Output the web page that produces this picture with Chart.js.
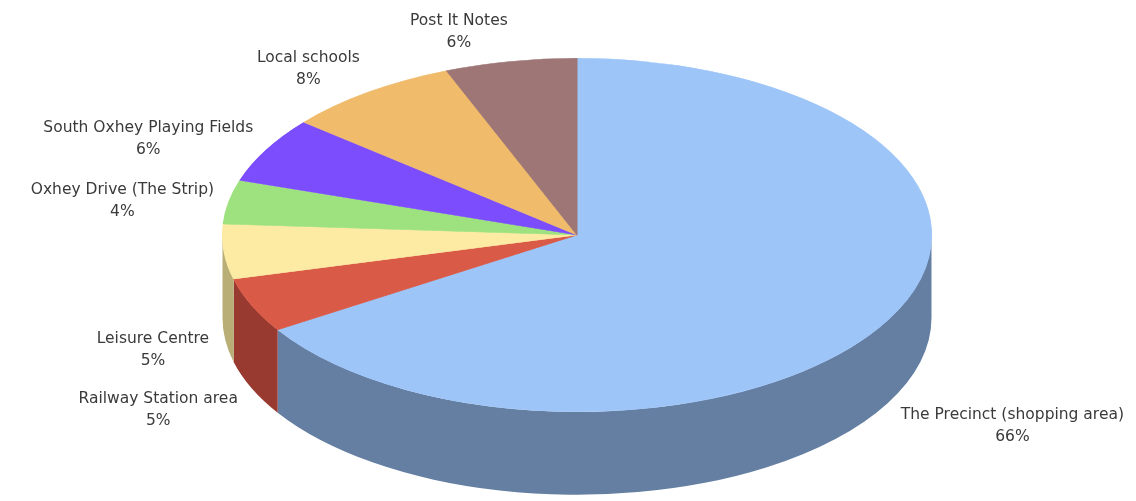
<!DOCTYPE html>
<html>
<head>
<meta charset="utf-8">
<script src="https://cdn.jsdelivr.net/npm/chart.js@4.4.1/dist/chart.umd.min.js"></script>
<style>
  html, body { margin: 0; padding: 0; background: #ffffff; }
  #wrap { width: 1136px; height: 501px; position: relative; }
</style>
</head>
<body>
<div id="wrap"><canvas id="mycanvas"></canvas></div>
<script>
//-------------------------
// data
//-------------------------
var places = [
  'The Precinct (shopping area)',
  'Railway Station area',
  'Leisure Centre',
  'Oxhey Drive (The Strip)',
  'South Oxhey Playing Fields',
  'Local schools',
  'Post It Notes'
];
var shares = [66, 5, 5, 4, 6, 8, 6]; // percent

// top face colours and the darker side colours
var topColors  = ['#9ec5f8', '#d95a47', '#fdeaa3', '#9ee27f', '#7b4dfc', '#f0bb6a', '#9e7676'];
var sideColors = ['#657fa3', '#983a2f', '#b8ae76', '#6e9e59', '#5636b0', '#a8834a', '#6f5353'];

var STRETCH = 355 / 177; // ellipse width / height
var DEPTH = 83;          // thickness of the pie, px

//-------------------------
// fake 3D: stretch the pie sideways and draw its visible rim
//-------------------------
var pie3d = {
  id: 'pie3d',
  beforeDatasetsDraw: function(chart) {
    var ctx = chart.ctx;
    var arcs = chart.getDatasetMeta(0).data;
    var cx = arcs[0].x, cy = arcs[0].y, r = arcs[0].outerRadius;
    ctx.save();
    ctx.translate(cx, 0);
    ctx.scale(STRETCH, 1);
    ctx.translate(-cx, 0);
    arcs.forEach(function(arc, i) {
      [0, 2 * Math.PI].forEach(function(k) {
        var a0 = Math.max(arc.startAngle, k);
        var a1 = Math.min(arc.endAngle, k + Math.PI);
        if (a1 <= a0) return;
        ctx.beginPath();
        ctx.arc(cx, cy, r, a0, a1);
        ctx.arc(cx, cy + DEPTH, r, a1, a0, true);
        ctx.closePath();
        ctx.fillStyle = sideColors[i];
        ctx.fill();
      });
    });
  },
  afterDatasetsDraw: function(chart) {
    chart.ctx.restore();
  },
  afterDraw: function(chart) {
    var ctx = chart.ctx;
    var arcs = chart.getDatasetMeta(0).data;
    var total = shares.reduce(function(a, b) { return a + b; }, 0);
    ctx.save();
    ctx.font = '15.5px "DejaVu Sans", Verdana, sans-serif';
    ctx.fillStyle = '#3a3a3a';
    ctx.textBaseline = 'middle';
    arcs.forEach(function(arc, i) {
      var mid = (arc.startAngle + arc.endAngle) / 2;
      var ux = Math.cos(mid), uy = Math.sin(mid);
      var gap = 15;
      var x = arc.x + (arc.outerRadius * STRETCH + gap) * ux;
      var y = arc.y + (arc.outerRadius + gap) * uy;
      if (uy > 0) {
        y += DEPTH + 14 + 4 * uy; // below the rim
      } else {
        y += 6 + 21 * uy;         // sit above the edge
      }
      ctx.textAlign = ux < 0 ? 'right' : 'left';
      var pct = Math.round(shares[i] / total * 100) + '%';
      var w = ctx.measureText(places[i]).width;
      var pw = ctx.measureText(pct).width;
      // percent line is centred under the name
      var px = ux < 0 ? x - (w - pw) / 2 : x + (w - pw) / 2;
      ctx.fillText(places[i], x, y - 11);
      ctx.fillText(pct, px, y + 11);
    });
    ctx.restore();
  }
};

var chartdata = {
  labels: places,
  datasets: [{
    data: shares,
    backgroundColor: topColors,
    borderColor: topColors,
    borderWidth: 0.5,
    clip: false
  }]
};

var ctx = document.getElementById('mycanvas');
var pieChart = new Chart(ctx, {
  type: 'pie',
  data: chartdata,
  options: {
    responsive: true,
    maintainAspectRatio: false,
    animation: false,
    events: [],
    layout: { padding: { top: 58, bottom: 89, left: 400, right: 382 } },
    plugins: {
      legend: { display: false },
      tooltip: { enabled: false }
    }
  },
  plugins: [pie3d]
});
</script>
</body>
</html>
